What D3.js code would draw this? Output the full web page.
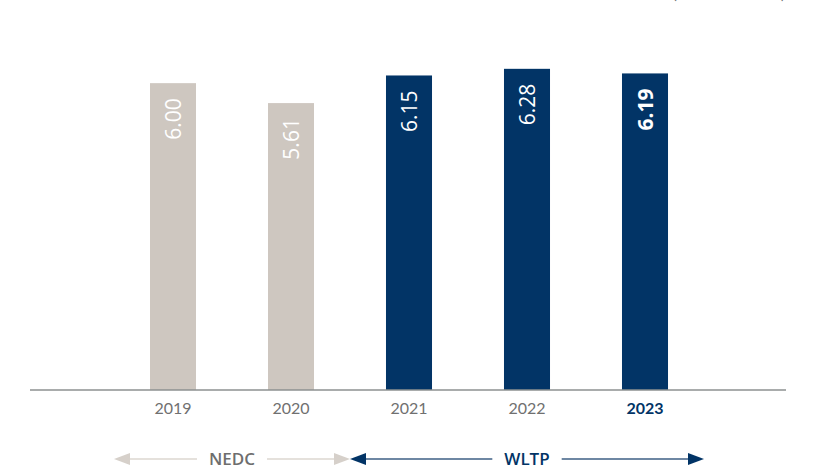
<!DOCTYPE html>
<html>
<head>
<meta charset="utf-8">
<script src="https://cdn.jsdelivr.net/npm/d3@7"></script>
<style>
  body { margin: 0; background: #fff; }
  svg { display: block; }
</style>
</head>
<body>
<div id="chart"></div>
<script>
// data
var years = ["2019", "2020", "2021", "2022", "2023"];
var values = [6.00, 5.61, 6.15, 6.28, 6.19];
var cycles = ["NEDC", "NEDC", "WLTP", "WLTP", "WLTP"];
var cycleNames = ["NEDC", "WLTP"];
var unitLabel = "(in litres/100 km)";

var width = 820, height = 470;
var beige = "#cec7c0", navy = "#023466";

var svg = d3.select("#chart").append("svg")
    .attr("width", width)
    .attr("height", height);

var x = d3.scaleBand().domain(years).range([114, 704])
    .paddingInner(0.61).paddingOuter(0.305);
var y = d3.scaleLinear().domain([0, 7]).range([390, 32]);

// unit text, mostly above the top edge (as in the original)
svg.append("text")
    .attr("x", 785).attr("y", -1)
    .attr("text-anchor", "end")
    .style("font-family", "Lato, sans-serif")
    .style("font-size", "15px")
    .style("fill", "#707070")
    .text(unitLabel);

// bars
var bars = svg.selectAll(".bar").data(years).enter();
bars.append("rect")
    .attr("x", function(d) { return x(d); })
    .attr("y", function(d, i) { return y(values[i]); })
    .attr("width", x.bandwidth())
    .attr("height", function(d, i) { return y(0) - y(values[i]); })
    .style("fill", function(d, i) { return cycles[i] === "NEDC" ? beige : navy; });

// value labels, rotated
bars.append("text")
    .attr("transform", function(d, i) {
        return "translate(" + (x(d) + x.bandwidth() / 2) + "," + (y(values[i]) + 15) + ") rotate(-90)";
    })
    .attr("dy", "0.36em")
    .attr("text-anchor", "end")
    .style("font-family", "'Open Sans', sans-serif")
    .style("font-size", "21px")
    .style("font-weight", function(d, i) { return i === years.length - 1 ? "bold" : "normal"; })
    .style("fill", "#fff")
    .text(function(d, i) { return values[i].toFixed(2); });

// baseline
svg.append("line")
    .attr("x1", 30).attr("x2", 786)
    .attr("y1", y(0)).attr("y2", y(0))
    .style("stroke", "#8c9191")
    .style("stroke-width", 1.5);

// year labels
var xAxis = svg.append("g")
    .attr("transform", "translate(0," + y(0) + ")")
    .call(d3.axisBottom(x).tickSize(0).tickPadding(13));
xAxis.select(".domain").remove();
xAxis.selectAll("text")
    .style("font-family", "Lato, sans-serif")
    .style("font-size", "16px")
    .style("fill", function(d, i) { return i === years.length - 1 ? navy : "#707070"; })
    .style("font-weight", function(d, i) { return i === years.length - 1 ? "bold" : "normal"; });

// test cycle arrows
var arrowY = 459;
cycleNames.forEach(function(name) {
    var yrs = years.filter(function(d, i) { return cycles[i] === name; });
    var x0 = x(yrs[0]) - x.step() * x.paddingInner() / 2;
    var x1 = x(yrs[yrs.length - 1]) + x.bandwidth() + x.step() * x.paddingInner() / 2;
    var col = name === "NEDC" ? "#d6d0ca" : navy;
    var lineCol = name === "NEDC" ? "#dcd7d1" : "#3e5f85";
    var cx = (x0 + x1) / 2;
    var g = svg.append("g");
    var label = g.append("text")
        .attr("x", cx).attr("y", arrowY)
        .attr("dy", "0.36em")
        .attr("text-anchor", "middle")
        .style("font-family", "'Open Sans', sans-serif")
        .style("font-size", "17px")
        .style("font-weight", "600")
        .style("fill", name === "NEDC" ? "#6e6e6e" : navy)
        .text(name);
    var half = label.node().getComputedTextLength() / 2 + 12;
    var head = 16, hh = 6;
    g.append("line")
        .attr("x1", x0 + head).attr("x2", cx - half)
        .attr("y1", arrowY).attr("y2", arrowY)
        .style("stroke", lineCol).style("stroke-width", 1.5);
    g.append("line")
        .attr("x1", cx + half).attr("x2", x1 - head)
        .attr("y1", arrowY).attr("y2", arrowY)
        .style("stroke", lineCol).style("stroke-width", 1.5);
    g.append("polygon")
        .attr("points", x0 + "," + arrowY + " " + (x0 + head) + "," + (arrowY - hh) + " " + (x0 + head) + "," + (arrowY + hh))
        .style("fill", col);
    g.append("polygon")
        .attr("points", x1 + "," + arrowY + " " + (x1 - head) + "," + (arrowY - hh) + " " + (x1 - head) + "," + (arrowY + hh))
        .style("fill", col);
});
</script>
</body>
</html>
